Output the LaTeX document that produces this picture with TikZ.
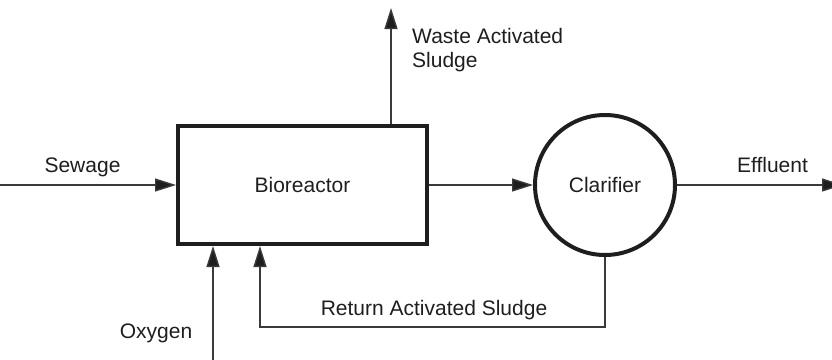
\documentclass[tikz,border=0pt]{standalone}
\usepackage{fontspec}
\setmainfont{Liberation Sans}
\usetikzlibrary{arrows.meta}
\definecolor{ink}{HTML}{1E1E1E}
\definecolor{wire}{HTML}{3A3A3A}
\tikzset{
  unitbox/.style={draw=ink, line width=4pt, inner sep=0pt},
  flow/.style={draw=wire, line width=1.4pt,
    -{Triangle[length=21pt, width=13pt, fill=ink]}},
  lbl/.style={text=ink, font=\fontsize{21}{24}\selectfont, inner sep=0pt},
}
\begin{document}
\begin{tikzpicture}[x=1pt, y=-1pt]
  \useasboundingbox (0,0) rectangle (832,359);

  % process units
  \node[unitbox, rectangle, minimum width=249pt, minimum height=118pt]
    (bio) at (302.5,185) {};
  \node[lbl] at (bio.center) {Bioreactor};
  \node[unitbox, circle, minimum size=140pt] (clar) at (605,185) {};
  \node[lbl] at (clar.center) {Clarifier};

  % free ends of the streams
  \coordinate (sewin) at (0,185);
  \coordinate (effout) at (843,185);
  \coordinate (wasout) at (391,8);
  \coordinate (oxyin) at (213,362);
  \coordinate (retcorner) at (260,327);

  % streams
  \draw[flow] (sewin) -- (bio.west);
  \draw[flow] (bio.east) -- (clar.west);
  \draw[flow] (clar.east) -- (effout);
  \draw[flow] (bio.north -| wasout) -- (wasout);
  \draw[flow] (oxyin) -- (bio.south -| oxyin);
  \draw[flow] (clar.south) |- (retcorner) -- (bio.south -| retcorner);

  % stream labels
  \node[lbl, anchor=base] (tsew) at (82.5,172.5) {Sewage};
  \node[lbl, anchor=base] (teff) at (772.5,172) {Effluent};
  \node[lbl, anchor=base west] (twas1) at (412,43) {Waste Activated};
  \node[lbl, anchor=base west] (twas2) at (412,67) {Sludge};
  \node[lbl, anchor=base] (toxy) at (156,338) {Oxygen};
  \node[lbl, anchor=base] (tret) at (434,315) {Return Activated Sludge};
\end{tikzpicture}
\end{document}
